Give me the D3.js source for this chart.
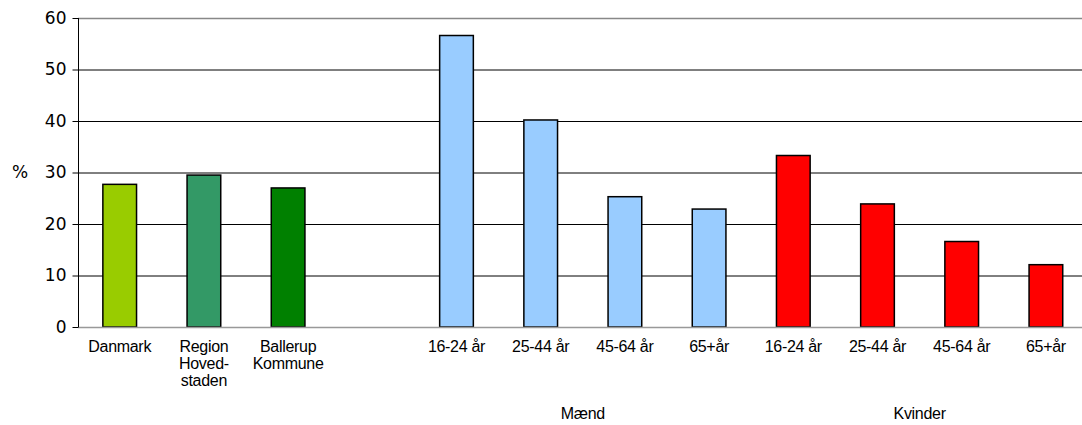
<!DOCTYPE html>
<html><head><meta charset="utf-8">
<script src="https://cdn.jsdelivr.net/npm/d3@7"></script>
<style>body{margin:0;background:#fff}svg{display:block}</style>
</head><body>
<svg id="c" width="1082" height="425"></svg>
<script>
const categories = [
  ["Danmark"], ["Region","Hoved-","staden"], ["Ballerup","Kommune"], [],
  ["16-24 år"], ["25-44 år"], ["45-64 år"], ["65+år"],
  ["16-24 år"], ["25-44 år"], ["45-64 år"], ["65+år"]
];
const values = [27.7, 29.5, 27.0, null, 56.6, 40.2, 25.3, 22.9, 33.3, 23.9, 16.6, 12.1];
const colors = ["#99CC00","#339966","#008000",null,"#99CCFF","#99CCFF","#99CCFF","#99CCFF","#FF0000","#FF0000","#FF0000","#FF0000"];
const groups = [{label:"Mænd", from:4, to:7}, {label:"Kvinder", from:8, to:11}];
const yTicks = [0,10,20,30,40,50,60];

const svg = d3.select("#c");
const x = d3.scaleBand().domain(d3.range(categories.length)).range([77.6, 1088]).paddingInner(0.6).paddingOuter(0.3);
const y = d3.scaleLinear().domain([0,60]).range([327,18]);

// gridlines
svg.append("g").selectAll("line").data(yTicks.filter(t=>t>0)).join("line")
  .attr("x1",78).attr("x2",1082).attr("y1",d=>y(d)+0.5).attr("y2",d=>y(d)+0.5)
  .attr("stroke",d=>d===60?"#888":"#000").attr("stroke-width",d=>d===60?1.5:1);

// bars
svg.append("g").selectAll("rect").data(values.map((v,i)=>({v,i})).filter(d=>d.v!=null)).join("rect")
  .attr("x",d=>x(d.i)).attr("width",x.bandwidth())
  .attr("y",d=>y(d.v)).attr("height",d=>y(0)-y(d.v))
  .attr("fill",d=>colors[d.i]).attr("stroke","#000").attr("stroke-width",1.5);

// x axis baseline
svg.append("line").attr("x1",78).attr("x2",1082).attr("y1",y(0)+0.5).attr("y2",y(0)+0.5)
  .attr("stroke","#999").attr("stroke-width",1.5);

// y axis
const yAxis = d3.axisLeft(y).tickValues(yTicks).tickSize(6).tickPadding(6);
const yg = svg.append("g").attr("transform","translate(78.5,0)").call(yAxis);
yg.select(".domain").attr("stroke","#000").attr("d","M0,"+y(60)+"V"+y(0));
yg.selectAll(".tick line").attr("stroke","#000");
yg.selectAll(".tick text").attr("font-family","DejaVu Sans, Verdana, sans-serif").attr("font-size",17).attr("fill","#000");

svg.append("text").attr("x",12).attr("y",y(30)).attr("dy","0.35em")
  .attr("font-family","DejaVu Sans, Verdana, sans-serif").attr("font-size",17).text("%");

// category labels
const cl = svg.append("g").attr("font-family","Liberation Sans, Arial, sans-serif").attr("font-size",16).attr("text-anchor","middle").attr("letter-spacing","-0.3");
categories.forEach((lines,i)=>{
  lines.forEach((ln,j)=>{
    cl.append("text").attr("x",x(i)+x.bandwidth()/2).attr("y",352+j*17).text(ln);
  });
});

// group labels
groups.forEach(g=>{
  const cx = (x(g.from)+x(g.to)+x.bandwidth())/2;
  cl.append("text").attr("x",cx).attr("y",419).text(g.label);
});
</script>
</body></html>
